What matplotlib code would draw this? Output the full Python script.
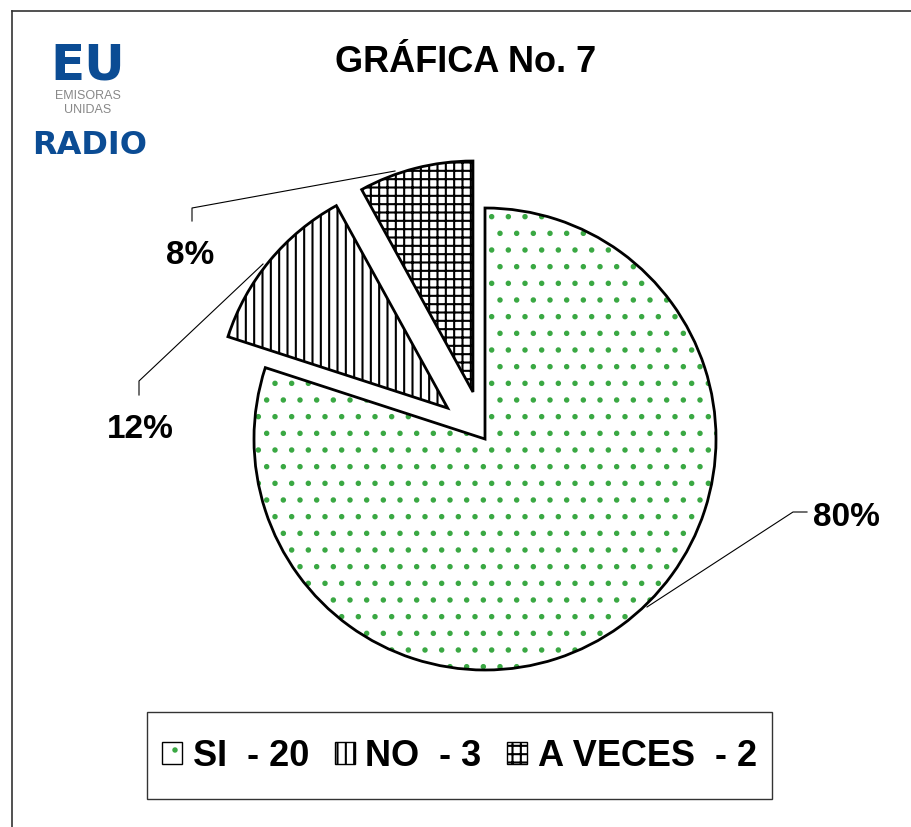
import matplotlib.pyplot as plt
from matplotlib.patches import Patch, Rectangle
from matplotlib.legend_handler import HandlerTuple

plt.rcParams['font.family'] = ['Liberation Sans', 'DejaVu Sans']
plt.rcParams['hatch.linewidth'] = 1.5

categorias = ['SI', 'NO', 'A VECES']
valores = [20, 3, 2]
porcentajes = ['80%', '12%', '8%']
leyenda = ['SI  - 20', 'NO  - 3', 'A VECES  - 2']
tramas = ['.', '||', '++']
color_trama = ['#3aa843', 'black', 'black']

W, H = 911, 828
fig = plt.figure(figsize=(W / 100, H / 100), dpi=100)
ax = fig.add_axes([0, 0, 1, 1])

centro = (485, H - 440)
radio = 231
separacion = [0, 0.21 * radio, 0.21 * radio]

# relleno con trama
cunas, _ = ax.pie(valores, startangle=90, counterclock=False, explode=separacion,
                  center=centro, radius=radio, frame=True)
for c, t, col in zip(cunas, tramas, color_trama):
    c.set_facecolor('white')
    c.set_hatch(t)
    c.set_edgecolor(col)
    c.set_linewidth(0)
# borde negro encima
bordes, _ = ax.pie(valores, startangle=90, counterclock=False, explode=separacion,
                   center=centro, radius=radio, frame=True,
                   wedgeprops=dict(facecolor='none', edgecolor='black', linewidth=2))
ax.set_xlim(0, W)
ax.set_ylim(0, H)
ax.set_aspect('equal')
ax.axis('off')

# etiquetas con líneas guía
ax.plot([647, 793, 807], [H - 608, H - 513, H - 513], color='black', lw=0.8)
ax.text(813, H - 517, porcentajes[0], fontsize=24, fontweight='bold', va='center', ha='left')
ax.plot([263, 139, 139], [H - 265, H - 382, H - 396], color='black', lw=0.8)
ax.text(140, H - 430, porcentajes[1], fontsize=24, fontweight='bold', va='center', ha='center')
ax.plot([395, 192, 192], [H - 172, H - 209, H - 222], color='black', lw=0.8)
ax.text(190, H - 255, porcentajes[2], fontsize=24, fontweight='bold', va='center', ha='center')

# título
ax.text(466, H - 62, 'GRÁFICA No. 7', fontsize=26, fontweight='bold', ha='center', va='center')

# marco exterior
ax.plot([12, 12], [0, H - 12], color='#333333', lw=1.2)
ax.plot([12, W], [H - 12, H - 12], color='#333333', lw=1.2)

# logo
azul = '#0b4c94'
ax.text(88, H - 80, 'EU', fontsize=36, fontweight='bold', color=azul, ha='center', va='baseline',
        family='DejaVu Sans')
ax.text(88, H - 96, 'EMISORAS', fontsize=9, color='#888888', ha='center', va='center')
ax.text(88, H - 110, 'UNIDAS', fontsize=9, color='#888888', ha='center', va='center')
ax.text(90, H - 146, 'RADIO', fontsize=23, fontweight='bold', color=azul, ha='center', va='center',
        family='DejaVu Sans')

# leyenda
ax.add_patch(Rectangle((147, H - 800), 625, 87, facecolor='white', edgecolor='#333333', lw=1))
manijas = [
    (Patch(facecolor='white', edgecolor=color_trama[0], hatch=tramas[0], lw=0),
     Patch(facecolor='none', edgecolor='black', lw=1)),
    Patch(facecolor='white', edgecolor='black', hatch=tramas[1], lw=1),
    Patch(facecolor='white', edgecolor='black', hatch=tramas[2], lw=1),
]
fig.legend(manijas, leyenda, loc='center', bbox_to_anchor=(459.5 / W, 1 - 757 / H), ncol=3,
           frameon=False, handler_map={tuple: HandlerTuple(ndivide=1, pad=0)},
           prop={'weight': 'bold', 'size': 26},
           handlelength=0.55, handleheight=0.55, handletextpad=0.3, columnspacing=0.7)

fig.savefig('out.png', dpi=100)
